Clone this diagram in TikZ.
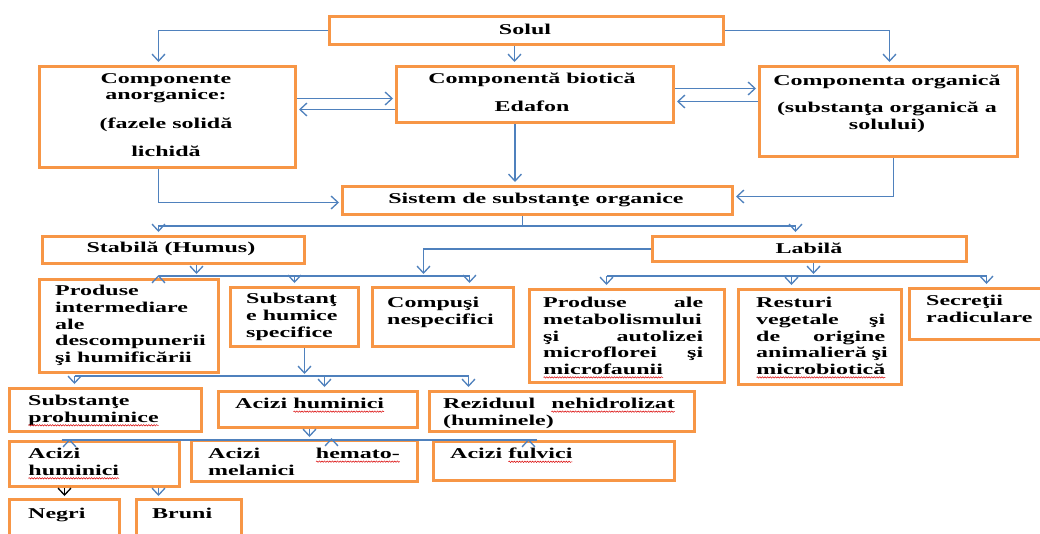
\documentclass[tikz,border=0pt]{standalone}
\usepackage{fontspec}
\setmainfont{Liberation Serif}[FakeStretch=1.6]
\usetikzlibrary{arrows.meta,calc,decorations.pathmorphing}
\definecolor{boxorange}{HTML}{F79646}
\definecolor{linkblue}{HTML}{4F81BD}
\newcommand\wavy[1]{\tikz[baseline=(wv.base)]{\node[inner sep=0pt,outer sep=0pt,anchor=base west,text width=,align=none] (wv) at (0,0) {#1};\draw[red!85!black,line width=0.5pt,decorate,decoration={snake,amplitude=0.7pt,segment length=2.6pt}] ([yshift=-3pt]wv.base west) -- ([yshift=-3pt]wv.base east);}}
\tikzset{
  box/.style={draw=boxorange, line width=3pt, inner sep=0pt, anchor=north west},
  txt/.style={inner sep=0pt, font=\fontsize{15pt}{16.7pt}\selectfont\bfseries},
  conn/.style={draw=linkblue, line width=1.3pt, -{Straight Barb[length=7pt,width=13pt]}},
  connk/.style={draw=black, line width=1.3pt, -{Straight Barb[length=7pt,width=13pt]}},
  link/.style={draw=linkblue, line width=1.3pt}
}
\begin{document}
\begin{tikzpicture}[x=1pt,y=-1pt]
\useasboundingbox (0,0) rectangle (1040,533);
\clip (0,0) rectangle (1040,533);
\fill[white] (0,0) rectangle (1040,533);
% boxes
\node[box, minimum width=394pt, minimum height=28pt] (solul) at (328,15) {};
\node[box, minimum width=256pt, minimum height=101pt] (anorg) at (38,65) {};
\node[box, minimum width=277pt, minimum height=56pt] (biot) at (395,65) {};
\node[box, minimum width=258pt, minimum height=90pt] (organ) at (758,65) {};
\node[box, minimum width=390pt, minimum height=28pt] (sistem) at (341,185) {};
\node[box, minimum width=262pt, minimum height=27pt] (stab) at (41,235) {};
\node[box, minimum width=314pt, minimum height=25pt] (labil) at (651,235) {};
\node[box, minimum width=179pt, minimum height=93pt] (prodint) at (38,278) {};
\node[box, minimum width=128pt, minimum height=59pt] (subhum) at (229,286) {};
\node[box, minimum width=141pt, minimum height=59pt] (compusi) at (371,286) {};
\node[box, minimum width=195pt, minimum height=93pt] (prodmet) at (528,288) {};
\node[box, minimum width=163pt, minimum height=95pt] (resturi) at (737,288) {};
\node[box, minimum width=137pt, minimum height=51pt] (secretii) at (908,287) {};
\node[box, minimum width=192pt, minimum height=43pt] (prohum) at (8,387) {};
\node[box, minimum width=199pt, minimum height=36pt] (acihum) at (217,390) {};
\node[box, minimum width=265pt, minimum height=40pt] (rezid) at (428,390) {};
\node[box, minimum width=170pt, minimum height=45pt] (acihum2) at (8,440) {};
\node[box, minimum width=226pt, minimum height=41pt] (hemato) at (190,439) {};
\node[box, minimum width=241pt, minimum height=39pt] (fulvic) at (432,440) {};
\node[box, minimum width=110pt, minimum height=45pt] (negri) at (8,498) {};
\node[box, minimum width=105pt, minimum height=45pt] (bruni) at (135,498) {};
% texts
\node[txt] (t-solul) at (525,29) {Solul};
\node[txt, align=center, anchor=north] (t-anorg) at (166,73) {Componente\\anorganice:\\[12pt](fazele solidă\\[11pt]lichidă};
\node[txt, align=center, anchor=north] (t-biot) at (532,73) {Componentă biotică\\[11pt]Edafon};
\node[txt, align=center, anchor=north] (t-organ) at (887,75) {Componenta organică\\[10pt](substanţa organică a\\solului)};
\node[txt] (t-sistem) at (536,199.5) {Sistem de substanţe organice};
\node[txt] (t-stab) at (171,249) {Stabilă (Humus)};
\node[txt] (t-labil) at (809,248) {Labilă};
\node[txt, align=left, anchor=north west] (t-prodint) at (55,285) {Produse\\intermediare\\ale\\descompunerii\\şi humificării};
\node[txt, align=left, anchor=north west] (t-subhum) at (246,293) {Substanţ\\e humice\\specifice};
\node[txt, align=left, anchor=north west] (t-compusi) at (387,297) {Compuşi\\nespecifici};
\node[txt, align=left, anchor=north west, text width=160pt] (t-prodmet) at (543,297) {Produse\hfill ale\\metabolismului\\şi\hfill autolizei\\microflorei\hfill şi\\\wavy{microfaunii}};
\node[txt, align=left, anchor=north west, text width=129pt] (t-resturi) at (756,297) {Resturi\\vegetale\hfill şi\\de\hfill origine\\animalieră~şi\\\wavy{microbiotică}};
\node[txt, align=left, anchor=north west] (t-secretii) at (926,295) {Secreţii\\radiculare};
\node[txt, align=left, anchor=north west] (t-prohum) at (28,395) {Substanţe\\\wavy{prohuminice}};
\node[txt, anchor=north west] (t-acihum) at (235,398) {Acizi \wavy{huminici}};
\node[txt, align=left, anchor=north west, text width=232pt] (t-rezid) at (443,398) {Reziduul\hfill\wavy{nehidrolizat}\\(huminele)};
\node[txt, align=left, anchor=north west] (t-acihum2) at (28,448) {Acizi\\\wavy{huminici}};
\node[txt, align=left, anchor=north west, text width=192pt] (t-hemato) at (208,448) {Acizi\hfill\wavy{hemato-}\\melanici};
\node[txt, anchor=north west] (t-fulvic) at (450,448) {Acizi \wavy{fulvici}};
\node[txt, anchor=north west] (t-negri) at (28,508) {Negri};
\node[txt, anchor=north west] (t-bruni) at (152,508) {Bruni};
% connectors, top
\draw[conn] (solul.west) -| ($(anorg.north)+(-9,-3)$);
\draw[conn] ($(solul.south)+(-12,0)$) -- ($(solul.south |- biot.north)+(-12,-3)$);
\draw[conn] (solul.east) -| ($(organ.north)+(1,-3)$);
\coordinate (ab1) at ($(biot.west)+(0,4)$);
\coordinate (ab2) at ($(biot.west)+(0,15)$);
\draw[conn] (ab1 -| anorg.east) -- ($(ab1)+(-2,0)$);
\draw[conn] (ab2) -- ($(ab2 -| anorg.east)+(2,0)$);
\coordinate (bo1) at ($(biot.east)+(0,-6)$);
\coordinate (bo2) at ($(biot.east)+(0,7)$);
\draw[conn] (bo1) -- ($(bo1 -| organ.west)+(-2,0)$);
\draw[conn] (bo2 -| organ.west) -- ($(bo2)+(2,0)$);
\draw[conn] ($(biot.south)+(-20,0)$) -- ($(biot.south |- sistem.north)+(-20,-3)$);
\draw[conn] ($(anorg.south)+(-9,0)$) |- ($(sistem.west)+(-2,2)$);
\draw[conn] ($(organ.south)+(5,0)$) |- ($(sistem.east)+(2,-4)$);
% sistem split
\coordinate (sj) at ($(sistem.south)+(-15,10)$);
\draw[link] ($(sistem.south)+(-15,0)$) -- (sj);
\draw[conn] (sj) -| ($(stab.north)+(-15,-3)$);
\draw[conn] (sj) -| ($(labil.north)+(-14,-3)$);
% stabila level
\coordinate (hb) at ($(stab.south)+(23,11)$);
\draw[conn] ($(stab.south)+(23,0)$) -- ($(stab.south)+(23,9)$);
\draw[link] ($(hb -| prodint.north)+(29.5,0)$) -- ($(hb -| compusi.north)+(26.5,0)$);
\draw[conn] ($(hb -| prodint.north)+(29.5,0)$) -- ($(prodint.north)+(29.5,-3)$);
\draw[conn] (hb -| subhum.north) -- ($(subhum.north)+(0,-3)$);
\draw[conn] ($(hb -| compusi.north)+(26.5,0)$) -- ($(compusi.north)+(26.5,-3)$);
\draw[conn] (labil.west) -| ($(compusi.north |- hb)+(-19.5,-2)$);
% labila level
\coordinate (lb) at ($(labil.south)+(4,13)$);
\draw[conn] ($(labil.south)+(4,0)$) -- ($(labil.south)+(4,11)$);
\draw[link] ($(lb -| prodmet.north)+(-20.5,0)$) -- ($(lb -| secretii.north)+(8.5,0)$);
\draw[conn] ($(lb -| prodmet.north)+(-20.5,0)$) -- ($(prodmet.north)+(-20.5,-3)$);
\draw[conn] ($(lb -| resturi.north)+(-28.5,0)$) -- ($(resturi.north)+(-28.5,-3)$);
\draw[conn] ($(lb -| secretii.north)+(8.5,0)$) -- ($(secretii.north)+(8.5,-3)$);
% substante humice level
\coordinate (sb) at ($(subhum.south)+(10,28)$);
\draw[conn] ($(subhum.south)+(10,0)$) -- ($(subhum.south)+(10,26)$);
\draw[link] ($(sb -| prohum.north)+(-31,0)$) -- ($(sb -| rezid.north)+(-93.5,0)$);
\draw[conn] ($(sb -| prohum.north)+(-31,0)$) -- ($(prohum.north)+(-31,-3)$);
\draw[conn] ($(sb -| acihum.north)+(6.5,0)$) -- ($(acihum.north)+(6.5,-3)$);
\draw[conn] ($(sb -| rezid.north)+(-93.5,0)$) -- ($(rezid.north)+(-93.5,-3)$);
% acizi huminici level
\coordinate (ah) at ($(acihum.south)+(-8.5,11)$);
\draw[conn] ($(acihum.south)+(-8.5,0)$) -- ($(acihum.south)+(-8.5,8)$);
\draw[link] ($(ah -| acihum2.north)+(-33,0)$) -- ($(ah -| fulvic.north)+(-17.5,0)$);
\draw[conn] ($(ah -| acihum2.north)+(-25,0)$) -- ($(acihum2.north)+(-25,-1)$);
\draw[conn] ($(ah -| hemato.north)+(27,0)$) -- ($(hemato.north)+(27,-1)$);
\draw[conn] ($(ah -| fulvic.north)+(-25.5,0)$) -- ($(fulvic.north)+(-25.5,-1)$);
% negri / bruni
\draw[connk] (acihum2.south -| negri.north) -- ($(negri.north)+(0,-2)$);
\draw[conn] ($(acihum2.south -| bruni.north)+(-30.5,0)$) -- ($(bruni.north)+(-30.5,-2)$);
\end{tikzpicture}
\end{document}
